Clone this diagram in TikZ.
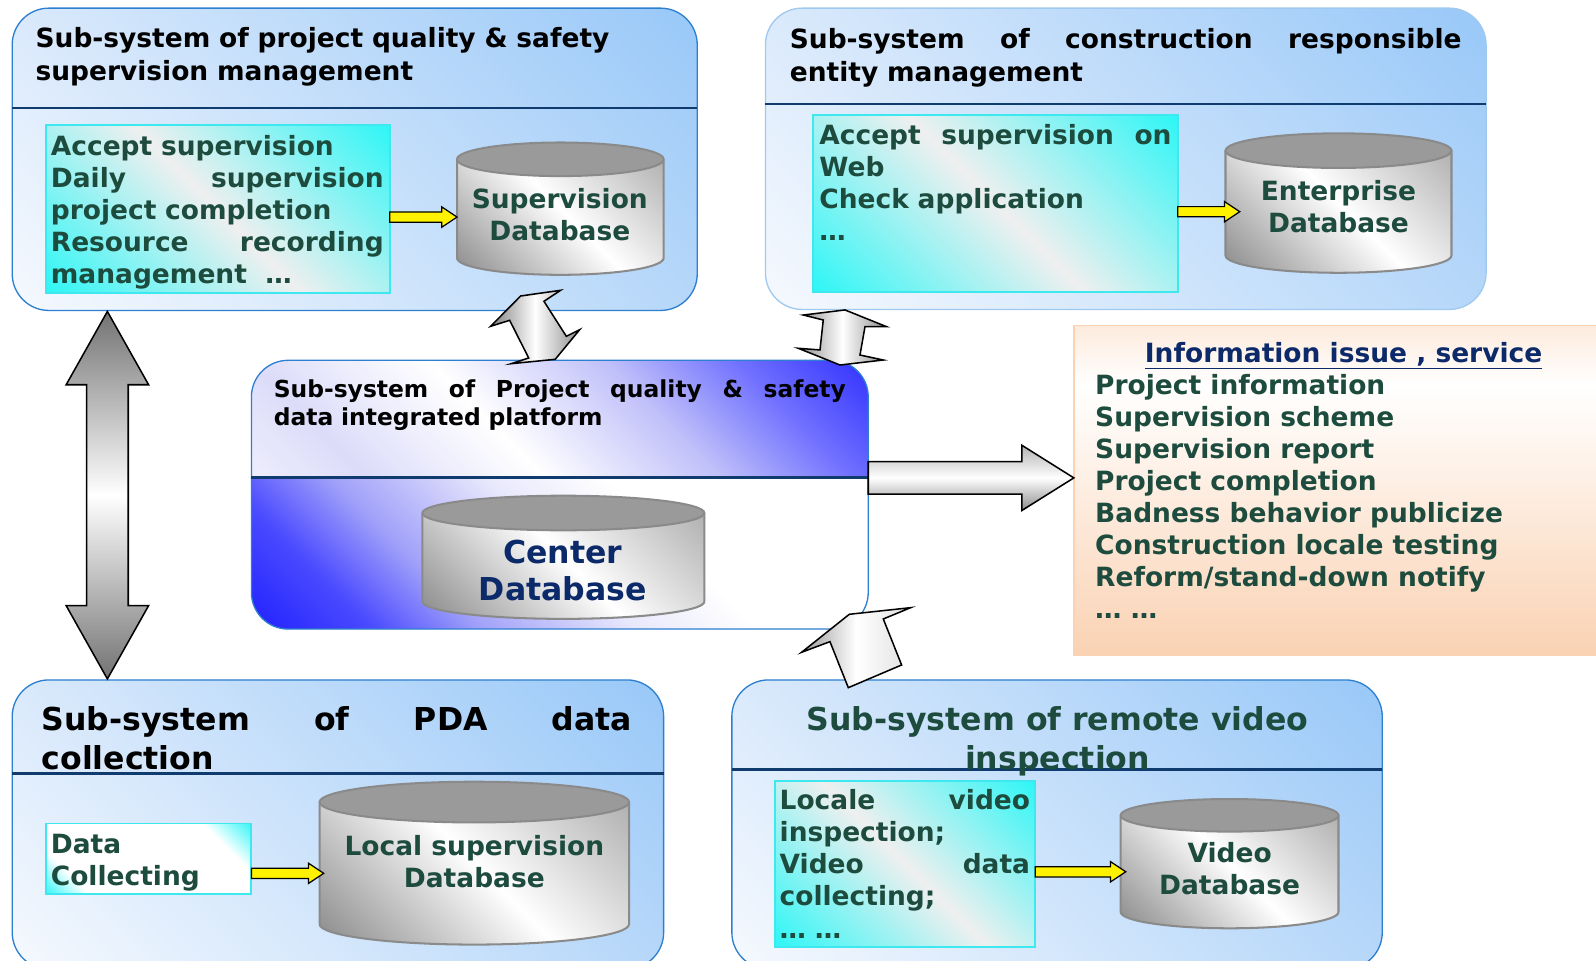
\documentclass[tikz,border=0pt]{standalone}
\usepackage{fontspec}
\setmainfont{DejaVu Sans}
\usetikzlibrary{calc}
\definecolor{dgreen}{HTML}{1D4C3E}
\definecolor{navy}{HTML}{0C2A6A}
\definecolor{frameblue}{HTML}{2D7FD0}
\definecolor{framelight}{HTML}{9FC9EF}
\definecolor{divnavy}{HTML}{0F3B6E}
\definecolor{hdrBL}{HTML}{E3EEFC}
\definecolor{hdrTR}{HTML}{98C8F8}
\definecolor{bodyBL}{HTML}{F6F9FE}
\definecolor{bodyTR}{HTML}{A3CDF8}
\definecolor{cyanC}{HTML}{2CF6F6}
\definecolor{cyanLine}{HTML}{3DE8EE}
\definecolor{greyM}{HTML}{EFEFEF}
\definecolor{cylLine}{HTML}{8A8A8A}
\definecolor{cylTop}{HTML}{9A9A9A}
\definecolor{cylDark}{HTML}{888888}
\definecolor{cylLight}{HTML}{A8A8A8}
\definecolor{peachT}{HTML}{FDEBDD}
\definecolor{peachB}{HTML}{FAD2B3}
\definecolor{peachLine}{HTML}{FBD3B4}
\definecolor{vhBL}{HTML}{EEEEFC}
\definecolor{vhA}{HTML}{DCDCFA}
\definecolor{vhB}{HTML}{C0C0FA}
\definecolor{vhC}{HTML}{7070FF}
\definecolor{vhTR}{HTML}{3030FF}
\definecolor{vblue}{HTML}{2020FF}
\definecolor{vbMid}{HTML}{4A4AFF}
\definecolor{vbLav}{HTML}{A0A0FA}
\definecolor{vbPale}{HTML}{E8E8FC}
\pgfdeclareverticalshading{vhdr}{100bp}{color(0bp)=(vhBL); color(25bp)=(vhBL); color(33bp)=(vhA); color(45bp)=(white); color(57bp)=(vhB); color(66bp)=(vhC); color(75bp)=(vhTR); color(100bp)=(vhTR)}
\pgfdeclareverticalshading{vbody}{100bp}{color(0bp)=(vblue); color(25bp)=(vblue); color(33bp)=(vbMid); color(40bp)=(vbLav); color(50bp)=(vbPale); color(58bp)=(white); color(100bp)=(white)}
\pgfdeclareverticalshading{infoshade}{100bp}{color(0bp)=(peachB); color(25bp)=(peachB); color(66bp)=(white); color(75bp)=(peachT); color(100bp)=(peachT)}
\pgfdeclareverticalshading{cyanwhite}{100bp}{color(0bp)=(cyanC); color(25bp)=(cyanC); color(33bp)=(white); color(66bp)=(white); color(75bp)=(cyanC); color(100bp)=(cyanC)}

% rotated square of shading, centre (#1,#2), half side #3, rotation #4
\newcommand\dsq[5]{%
 \begin{scope}[transform canvas={rotate around={#4:(#1,#2)}}]
  \shade[#5] ({#1-#3},{#2-#3}) rectangle ({#1+#3},{#2+#3});
 \end{scope}}
% diagonal gradient (bottom-left to top-right) in a rectangle
\newcommand\dshade[5]{%
 \pgfmathsetmacro\dsx{(#1+#3)/2}%
 \pgfmathsetmacro\dsy{(#2+#4)/2}%
 \pgfmathsetmacro\dss{(abs(#3-#1)+abs(#4-#2))/2.8284+1}%
 \begin{scope}\clip (#1,#2) rectangle (#3,#4); \dsq{\dsx}{\dsy}{\dss}{-45}{#5}\end{scope}}

\newcommand\sysbox[8]{%
 \begin{scope}
  \clip[rounded corners=36pt] (#2,#3) rectangle (#4,#5);
  \dshade{#2}{#3}{#4}{#6}{hdr#7}
  \dshade{#2}{#6}{#4}{#5}{body#7}
 \end{scope}
 \node[#8, minimum width={#4-#2}, minimum height={#5-#3}] (#1) at (#2,#3) {};
 \draw[divline] (#2,#6) -- (#4,#6);
}
\newcommand\dbcyl[6]{%
 \pgfmathsetmacro\dbcx{(#2+#3)/2}%
 \pgfmathsetmacro\dbrx{(#3-#2)/2}%
 \pgfmathsetmacro\dbyt{#4+#6}%
 \pgfmathsetmacro\dbyb{#5-#6}%
 \pgfmathsetmacro\dbw{#3-#2}%
 \pgfmathsetmacro\dbh{#5-#4-#6}%
 \pgfmathsetmacro\dbcy{(#4+#5)/2}%
 \pgfmathsetmacro\dbs{(#3-#2+#5-#4)/2.8284+1}%
 \begin{scope}
  \clip (#2,\dbyt) -- (#2,\dbyb) arc[start angle=180,end angle=0,x radius=\dbrx,y radius=#6] -- (#3,\dbyt) -- cycle;
  \dsq{\dbcx}{\dbcy}{\dbs}{-45}{cylbody}
 \end{scope}
 \draw[cylline] (#2,\dbyt) -- (#2,\dbyb) arc[start angle=180,end angle=0,x radius=\dbrx,y radius=#6] -- (#3,\dbyt);
 \filldraw[cylline, fill=cylTop] (\dbcx,\dbyt) ellipse[x radius=\dbrx, y radius=#6];
 \node[inner sep=0pt, outer sep=0pt, minimum width=\dbw, minimum height=\dbh, anchor=north west] (#1) at (#2,\dbyt) {};
}
\newcommand\yarrow[2]{%
 \path[yarr] let \p1=(#1), \p2=(#2) in (\x1,\y1+5pt) -- (\x2-15pt,\y1+5pt) -- (\x2-15pt,\y1+10pt) -- (\x2,\y1) -- (\x2-15pt,\y1-10pt) -- (\x2-15pt,\y1-5pt) -- (\x1,\y1-5pt) -- cycle;
}

\begin{document}
\begin{tikzpicture}[x=1pt,y=-1pt,
 txt/.style={inner sep=0pt, outer sep=0pt, anchor=north west, align=left, text=dgreen, font=\bfseries\fontsize{26}{31.5}\selectfont},
 ttl/.style={txt, text=black, font=\bfseries\fontsize{26}{32}\selectfont},
 bigttl/.style={txt, text=black, font=\bfseries\fontsize{31}{38}\selectfont},
 ctrttl/.style={txt, text=black, font=\bfseries\fontsize{23}{27}\selectfont},
 dbtxt/.style={txt, anchor=north, align=center},
 frame/.style={draw=frameblue, line width=1.3pt, rounded corners=36pt, inner sep=0pt, outer sep=0pt, anchor=north west},
 framelt/.style={frame, draw=framelight},
 divline/.style={draw=divnavy, line width=2.4pt},
 hdrblue/.style={top color=hdrTR, bottom color=hdrBL},
 bodyblue/.style={top color=bodyTR, bottom color=bodyBL},
 hdrviolet/.style={shade, shading=vhdr},
 bodyviolet/.style={shade, shading=vbody},
 cyangrey/.style={top color=cyanC, bottom color=cyanC, middle color=greyM},
 cyanw/.style={shade, shading=cyanwhite},
 inbox/.style={draw=cyanLine, line width=1.8pt, inner sep=0pt, outer sep=0pt, anchor=north west},
 cylbody/.style={top color=cylLight, bottom color=cylDark, middle color=white},
 cylline/.style={draw=cylLine, line width=2pt},
 yarr/.style={draw=black, fill=yellow, line width=1.2pt},
 garr/.style={draw=black, line width=1.5pt, line join=miter}
]
\useasboundingbox (0,0) rectangle (1568,944);
\fill[white] (0,0) rectangle (1568,944);

% information box
\node[draw=peachLine, line width=1.5pt, shade, shading=infoshade, anchor=north west, minimum width=530, minimum height=324, inner sep=0pt, outer sep=0pt] (info) at (1055,320) {};

% subsystem boxes
\sysbox{b1}{12}{8}{685}{305}{106}{blue}{frame}
\sysbox{b2}{752}{8}{1460}{304}{102}{blue}{framelt}
\sysbox{cb}{247}{354}{853}{618}{469}{violet}{frame}
\sysbox{b3}{12}{668}{652}{952}{760}{blue}{frame}
\sysbox{b4}{719}{668}{1358}{952}{756}{blue}{frame}

% inner boxes
\dshade{45}{123}{383}{288}{cyangrey}
\node[inbox, minimum width=338, minimum height=165] (in1) at (45,123) {};
\dshade{799}{113}{1157}{287}{cyangrey}
\node[inbox, minimum width=358, minimum height=174] (in2) at (799,113) {};
\dshade{45}{809}{247}{878}{cyanw}
\node[inbox, minimum width=202, minimum height=69] (in3) at (45,809) {};
\dshade{761}{767}{1017}{930}{cyangrey}
\node[inbox, minimum width=256, minimum height=163] (in4) at (761,767) {};

% databases
\dbcyl{sdb}{449}{652}{140}{270}{16.5}
\dbcyl{edb}{1204}{1426}{131}{268}{17}
\dbcyl{cdb}{415}{692}{487}{608}{17}
\dbcyl{ldb}{314}{618}{768}{928}{20}
\dbcyl{vdb}{1101}{1315}{785}{912}{16}

% titles
\node[ttl, text width=640] (b1t) at (35,24.2) {\strut Sub-system of project quality \& safety\\supervision management};
\node[ttl, text width=660] (b2t) at (776,25.2) {\strut Sub-system\hfill of\hfill construction\hfill responsible\\entity management};
\node[ctrttl, text width=562] (cbt) at (269,371.7) {\strut Sub-system\hfill of\hfill Project\hfill quality\hfill \&\hfill safety\\data integrated platform};
\node[bigttl, text width=580] (b3t) at (41,691.5) {\strut Sub-system\hfill of\hfill PDA\hfill data\\collection};
\node[bigttl, anchor=north, align=center, text=dgreen] (b4t) at (1039,691.5) {\strut Sub-system of remote video\\inspection};

% inner texts
\node[txt, text width=327] (in1t) at (50,130.5) {\strut Accept supervision\\Daily\hfill supervision\\project completion\\Resource\hfill recording\\management\hspace{0.7em}…};
\node[txt, text width=346] (in2t) at (805,119.5) {\strut Accept\hfill supervision\hfill on\\Web\\Check application\\…};
\node[txt] (in3t) at (50,816.5) {\strut Data\\Collecting};
\node[txt, text width=246] (in4t) at (766,773.5) {\strut Locale\hfill video\\inspection;\\Video\hfill data\\collecting;\\… …};

% database texts
\node[dbtxt] (sdbt) at (550,182.5) {\strut Supervision\\Database};
\node[dbtxt] (edbt) at (1315,174.5) {\strut Enterprise\\Database};
\node[dbtxt, text=navy, font=\bfseries\fontsize{31}{37}\selectfont] (cdbt) at (553,527.3) {\strut Center\\Database};
\node[dbtxt] (ldbt) at (466,818.5) {\strut Local supervision\\Database};
\node[dbtxt] (vdbt) at (1208,825.5) {\strut Video\\Database};

% information texts
\node[txt, anchor=north, text=navy] (infot) at (1320,334.5) {\strut\underline{Information issue , service}};
\node[txt] (infol) at (1076,365.5) {\strut Project information\\Supervision scheme\\Supervision report\\Project completion\\Badness behavior publicize\\Construction locale testing\\Reform/stand-down notify\\… …};

% yellow arrows
\yarrow{in1.east |- sdb.west}{sdb.west}
\yarrow{in2.east |- edb.west}{$(edb.west)+(14,0)$}
\yarrow{in3.east |- ldb.west}{$(ldb.west)+(4,0)$}
\yarrow{in4.east |- vdb.west}{$(vdb.west)+(5,0)$}

% grey block arrows
\coordinate (la1) at ($(b1.south west)+(93.5,1)$);
\coordinate (la2) at ($(b3.north west)+(93.5,-1)$);
\path[garr, top color=black!55, bottom color=black!55, middle color=white] let \p1=(la1), \p2=(la2) in
 (\p1) -- (\x1+40.5pt,\y1-72pt) -- (\x1+20.5pt,\y1-72pt) -- (\x1+20.5pt,\y2+72pt) -- (\x1+40.5pt,\y2+72pt) -- (\p2)
 -- (\x1-40.5pt,\y2+72pt) -- (\x1-20.5pt,\y2+72pt) -- (\x1-20.5pt,\y1-72pt) -- (\x1-40.5pt,\y1-72pt) -- cycle;

\coordinate (ra1) at ($(cb.north east)+(0,115.5)$);
\coordinate (ra2) at (info.west |- ra1);
\path[garr, top color=black!30, bottom color=black!45, middle color=white] let \p1=(ra1), \p2=(ra2) in
 (\x1,\y1+16pt) -- (\x2-51pt,\y1+16pt) -- (\x2-51pt,\y1+32pt) -- (\x2,\y1) -- (\x2-51pt,\y1-32pt) -- (\x2-51pt,\y1-16pt) -- (\x1,\y1-16pt) -- cycle;

\path[garr, left color=black!50, right color=black!45, middle color=white]
 (511.5,290.8) -- (550.8,285.2) -- (534.4,296.0) -- (556.4,330.4) -- (569.5,323.9) -- (545.5,353.0)
 -- (502.3,357.3) -- (519.4,351.7) -- (500.7,314.7) -- (482.0,320.6) -- cycle;

\path[garr, left color=black!45, right color=black!45, middle color=white]
 (830.2,304.5) -- (871.1,321.0) -- (849.8,321.0) -- (844.9,348.8) -- (867.8,353.7) -- (825.2,358.6)
 -- (784.3,342.2) -- (805.6,343.8) -- (808.8,314.4) -- (789.2,309.5) -- cycle;

\path[garr, left color=black!40, right color=black!12, middle color=white]
 (787.6,640.8) -- (834.4,603.5) -- (894.7,597.0) -- (867.8,608.1) -- (885.8,653.3) -- (833.4,675.6) -- (815.4,630.4) -- cycle;
\end{tikzpicture}
\end{document}
